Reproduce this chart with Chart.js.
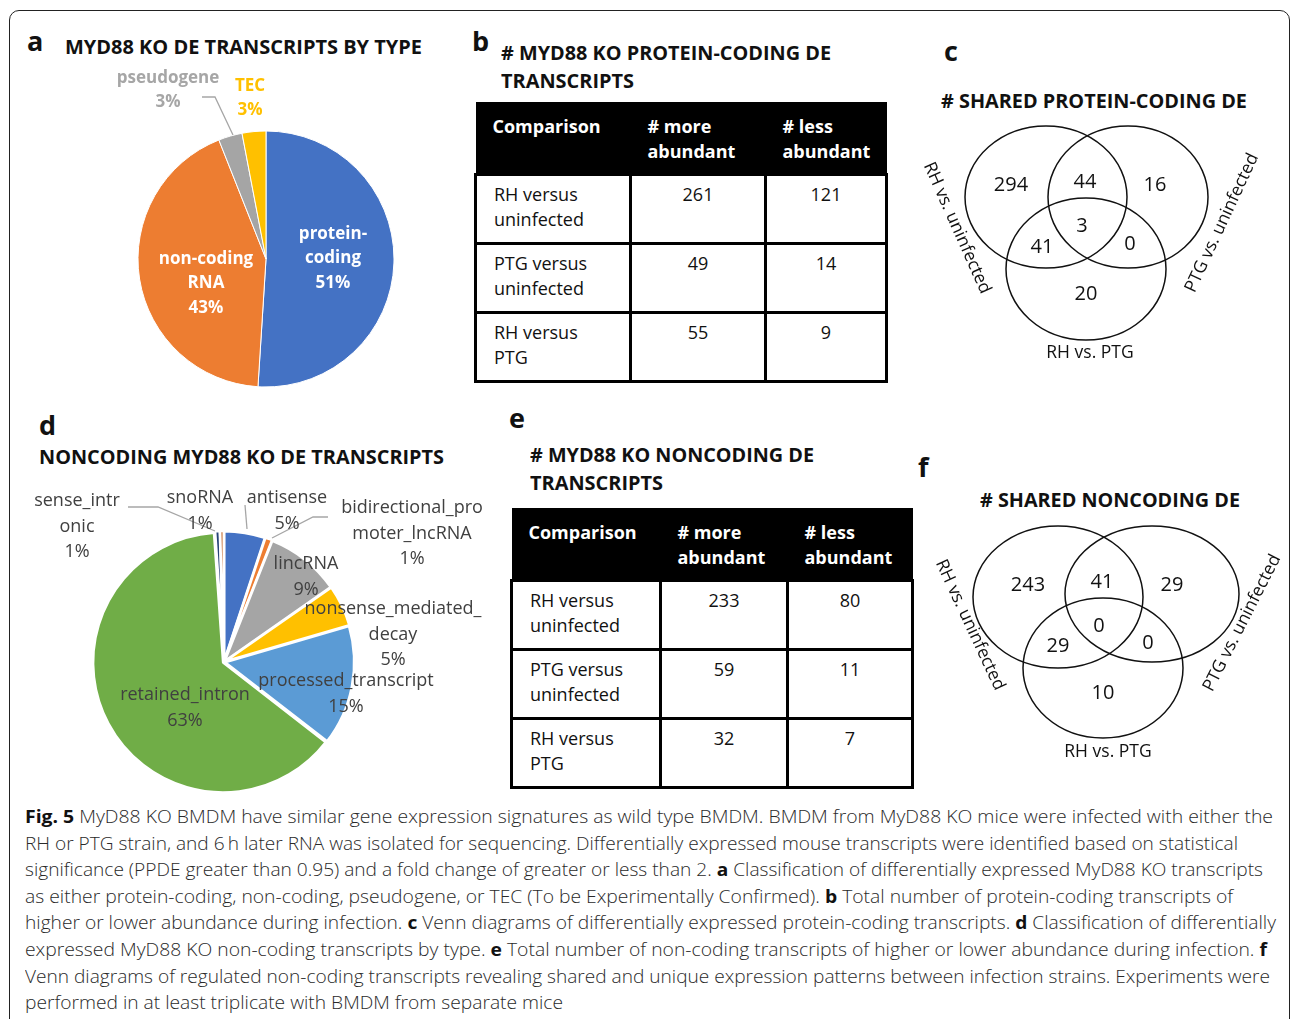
<!DOCTYPE html>
<html>
<head>
<meta charset="utf-8">
<script src="https://cdn.jsdelivr.net/npm/chart.js@4.4.0/dist/chart.umd.min.js"></script>
<style>
    html, body { margin: 0; padding: 0; background: #fff; }
    body { width: 1292px; height: 1019px; position: relative; overflow: hidden; font-family: "Open Sans", sans-serif; color: #111; }
    .frame { position: absolute; left: 9px; top: 10px; width: 1279px; height: 1100px; border: 1.5px solid #222; border-radius: 10px; }
    .abs { position: absolute; white-space: nowrap; }
    .letter { font-weight: 700; font-size: 27px; line-height: 30px; color: #111; }
    .ttl { font-weight: 700; font-size: 19.5px; line-height: 28px; color: #111; transform-origin: left center; }
    canvas { position: absolute; }
    table.tb { position: absolute; border-collapse: collapse; font-size: 18px; line-height: 25px; table-layout: fixed; }
    table.tb td { border: 3px solid #000; vertical-align: top; padding: 6px 0 0 17px; }
    table.tb tr.hd td { background: #000; color: #fff; font-weight: 700; padding-top: 9px; border-left: none; border-right: none; }
    table.tb td.num { text-align: center; padding-left: 0; }
    .cap { position: absolute; left: 25px; top: 803px; font-size: 18.5px; line-height: 26.6px; color: #2a2a2a; font-weight: 300; }
    .cap div { white-space: nowrap; transform-origin: left center; width: max-content; }
    .cap b { font-weight: 700; color: #111; }
</style>
</head>
<body>
<div class="frame"></div>

<!-- a -->
<div class="abs letter" style="left:27px;top:26px;">a</div>
<div class="abs ttl fit" data-w="357" style="left:65px;top:33px;">MYD88 KO DE TRANSCRIPTS BY TYPE</div>
<canvas id="pieA" width="470" height="340" style="left:0px;top:60px;"></canvas>

<!-- b -->
<div class="abs letter" style="left:472px;top:26px;">b</div>
<div class="abs ttl fit" data-w="330" style="left:501px;top:39px;"># MYD88 KO PROTEIN-CODING DE</div>
<div class="abs ttl fit" data-w="133" style="left:501px;top:67px;">TRANSCRIPTS</div>
<table class="tb" id="tableB" style="left:474px;top:102px;width:411px;"></table>

<!-- c -->
<div class="abs letter" style="left:944px;top:36px;">c</div>
<div class="abs ttl fit" data-w="306" style="left:941px;top:87px;"># SHARED PROTEIN-CODING DE</div>
<canvas id="vennC" width="392" height="260" style="left:900px;top:110px;"></canvas>

<!-- d -->
<div class="abs letter" style="left:39px;top:410px;">d</div>
<div class="abs ttl fit" data-w="405" style="left:39px;top:443px;">NONCODING MYD88 KO DE TRANSCRIPTS</div>
<canvas id="pieD" width="500" height="330" style="left:0px;top:470px;"></canvas>

<!-- e -->
<div class="abs letter" style="left:509px;top:403px;">e</div>
<div class="abs ttl fit" data-w="284" style="left:530px;top:441px;"># MYD88 KO NONCODING DE</div>
<div class="abs ttl fit" data-w="133" style="left:530px;top:469px;">TRANSCRIPTS</div>
<table class="tb" id="tableE" style="left:510px;top:508px;width:401px;"></table>

<!-- f -->
<div class="abs letter" style="left:918px;top:452px;">f</div>
<div class="abs ttl fit" data-w="260" style="left:980px;top:486px;"># SHARED NONCODING DE</div>
<canvas id="vennF" width="392" height="260" style="left:900px;top:510px;"></canvas>

<div class="cap" id="caption">
<div data-w="1248"><b>Fig. 5</b> MyD88 KO BMDM have similar gene expression signatures as wild type BMDM. BMDM from MyD88 KO mice were infected with either the</div>
<div data-w="1213">RH or PTG strain, and 6&#8201;h later RNA was isolated for sequencing. Differentially expressed mouse transcripts were identified based on statistical</div>
<div data-w="1238">significance (PPDE greater than 0.95) and a fold change of greater or less than 2. <b>a</b> Classification of differentially expressed MyD88 KO transcripts</div>
<div data-w="1208">as either protein-coding, non-coding, pseudogene, or TEC (To be Experimentally Confirmed). <b>b</b> Total number of protein-coding transcripts of</div>
<div data-w="1251">higher or lower abundance during infection. <b>c</b> Venn diagrams of differentially expressed protein-coding transcripts. <b>d</b> Classification of differentially</div>
<div data-w="1242">expressed MyD88 KO non-coding transcripts by type. <b>e</b> Total number of non-coding transcripts of higher or lower abundance during infection. <b>f</b></div>
<div data-w="1245">Venn diagrams of regulated non-coding transcripts revealing shared and unique expression patterns between infection strains. Experiments were</div>
<div data-w="538">performed in at least triplicate with BMDM from separate mice</div>
</div>

<script>
// ---- data ----
const typeLabels = ['protein-coding', 'non-coding RNA', 'pseudogene', 'TEC'];
const typeShares = [51, 43, 3, 3];

const noncodingLabels = ['antisense', 'bidirectional_promoter_lncRNA', 'lincRNA', 'nonsense_mediated_decay',
    'processed_transcript', 'retained_intron', 'sense_intronic', 'snoRNA'];
const noncodingShares = [5.1, 0.9, 9.3, 5.2, 15.0, 63.4, 0.6, 0.5];

const comparisons = ['RH versus uninfected', 'PTG versus uninfected', 'RH versus PTG'];
const proteinMore = [261, 49, 55];
const proteinLess = [121, 14, 9];
const noncodingMore = [233, 59, 32];
const noncodingLess = [80, 11, 7];

// venn regions: RH only, RH&PTG-unin, PTG only, RH&RHvsPTG, all three, PTG&RHvsPTG, RHvsPTG only
const vennSets = ['RH vs. uninfected', 'PTG vs. uninfected', 'RH vs. PTG'];
const sharedProteinCoding = [294, 44, 16, 41, 3, 0, 20];
const sharedNoncoding = [243, 41, 29, 29, 0, 0, 10];

// ---- styles ----
const typeColors = ['#4472C4', '#ED7D31', '#A5A5A5', '#FFC000'];
const noncodingColors = ['#4472C4', '#ED7D31', '#A5A5A5', '#FFC000', '#5B9BD5', '#70AD47', '#264478', '#C9773F'];

// tables
function fillTable(id, more, less, colW) {
    let html = '<colgroup>' + colW.map(w => '<col style="width:' + w + 'px">').join('') + '</colgroup>';
    html += '<tr class="hd" style="height:71px"><td>Comparison</td><td>#&nbsp;more<br>abundant</td><td>#&nbsp;less<br>abundant</td></tr>';
    comparisons.forEach(function(c, i){
        let parts = c.split(' versus ');
        html += '<tr style="height:69px"><td>' + parts[0] + ' versus<br>' + parts[1] + '</td>'
            + '<td class="num">' + more[i] + '</td><td class="num">' + less[i] + '</td></tr>';
    });
    document.getElementById(id).innerHTML = html;
}
fillTable('tableB', proteinMore, proteinLess, [155, 135, 121]);
fillTable('tableE', noncodingMore, noncodingLess, [149, 127, 125]);

// pie labels drawn around the chart centre
const pieLabels = {
    id: 'pieLabels',
    afterDatasetsDraw(chart, args, opts) {
        if(!opts.items) return;
        const ctx = chart.ctx;
        const arc0 = chart.getDatasetMeta(0).data[0];
        const cx = arc0.x, cy = arc0.y;
        const vals = chart.data.datasets[0].data;
        const total = vals.reduce((a, b) => a + b, 0);
        ctx.save();
        ctx.textAlign = 'center';
        ctx.textBaseline = 'middle';
        // leader lines
        ctx.strokeStyle = '#A6A6A6';
        ctx.lineWidth = 1.3;
        (opts.leaders || []).forEach(function(pts){
            ctx.beginPath();
            pts.forEach(function(p, k){
                if(k === 0) ctx.moveTo(cx + p[0], cy + p[1]); else ctx.lineTo(cx + p[0], cy + p[1]);
            });
            ctx.stroke();
        });
        opts.items.forEach(function(it, i){
            let name = chart.data.labels[i];
            let lines = [];
            let start = 0;
            (it.wrap || []).forEach(function(w){ lines.push(name.slice(start, w).trim()); start = w; });
            lines.push(name.slice(start).trim());
            lines.push(Math.round(vals[i] / total * 100) + '%');
            ctx.fillStyle = it.color || opts.color;
            ctx.font = opts.font;
            lines.forEach(function(l, k){
                ctx.fillText(l, cx + it.dx, cy + it.dy + k * opts.lineH);
            });
        });
        ctx.restore();
    }
};

const vennPlugin = {
    id: 'venn',
    afterDatasetsDraw(chart, args, opts) {
        if(!opts.ellipses) return;
        const ctx = chart.ctx;
        const x = chart.scales.x, y = chart.scales.y;
        ctx.save();
        ctx.strokeStyle = '#111';
        ctx.lineWidth = 1.5;
        opts.ellipses.forEach(function(e){
            let px = x.getPixelForValue(e[0]), py = y.getPixelForValue(e[1]);
            let rx = Math.abs(x.getPixelForValue(e[0] + e[2]) - px);
            let ry = Math.abs(y.getPixelForValue(e[1] + e[3]) - py);
            ctx.beginPath();
            ctx.ellipse(px, py, rx, ry, 0, 0, Math.PI * 2);
            ctx.stroke();
        });
        ctx.fillStyle = '#111';
        ctx.textAlign = 'center';
        ctx.textBaseline = 'middle';
        ctx.font = '20px "Open Sans"';
        chart.getDatasetMeta(0).data.forEach(function(pt, i){
            ctx.fillText(String(chart.data.datasets[0].data[i].n), pt.x, pt.y);
        });
        ctx.font = '17.5px "Open Sans"';
        opts.setLabels.forEach(function(s, i){
            ctx.save();
            ctx.translate(x.getPixelForValue(s[0]), y.getPixelForValue(s[1]));
            ctx.rotate(s[2] * Math.PI / 180);
            ctx.fillText(vennSets[i], 0, 0);
            ctx.restore();
        });
        ctx.restore();
    }
};

new Chart(document.getElementById('pieA'), {
    type: 'pie',
    plugins: [pieLabels],
    data: {
        labels: typeLabels,
        datasets: [{ data: typeShares, backgroundColor: typeColors, borderColor: '#fff', borderWidth: 1, radius: 128 }]
    },
    options: {
        responsive: false,
        animation: false,
        layout: { padding: { left: 62, top: 58 } },
        plugins: {
            legend: { display: false },
            tooltip: { enabled: false },
            pieLabels: {
                font: 'bold 17px "Open Sans"',
                color: '#fff',
                lineH: 24.5,
                items: [
                    { dx: 67, dy: -25, wrap: [8] },
                    { dx: -60, dy: 0, wrap: [10] },
                    { dx: -98, dy: -181, color: '#A6A6A6' },
                    { dx: -16, dy: -173, color: '#FFC000' }
                ],
                leaders: [[[-64, -162], [-51, -162], [-33, -124]]]
            }
        }
    }
});

new Chart(document.getElementById('pieD'), {
    type: 'pie',
    plugins: [pieLabels],
    data: {
        labels: noncodingLabels,
        datasets: [{ data: noncodingShares, backgroundColor: noncodingColors, borderColor: '#fff', borderWidth: 2.5, offset: 4, radius: 129 }]
    },
    options: {
        responsive: false,
        animation: false,
        layout: { padding: { right: 52, top: 54 } },
        plugins: {
            legend: { display: false },
            tooltip: { enabled: false },
            pieLabels: {
                font: '18px "Open Sans"',
                color: '#404040',
                lineH: 25.5,
                items: [
                    { dx: 63, dy: -164 },
                    { dx: 188, dy: -154, wrap: [17] },
                    { dx: 82, dy: -98 },
                    { dx: 169, dy: -53, wrap: [18] },
                    { dx: 122, dy: 19 },
                    { dx: -39, dy: 33 },
                    { dx: -147, dy: -161, wrap: [10] },
                    { dx: -24, dy: -164 }
                ],
                leaders: [
                    [[-96, -155], [-66, -155], [-9, -131]],
                    [[21, -157], [23, -133]],
                    [[104, -145], [89, -145], [48, -124]]
                ]
            }
        }
    }
});

function makeVenn(id, counts, positions, ellipses, setLabels) {
    new Chart(document.getElementById(id), {
        type: 'scatter',
        plugins: [vennPlugin],
        data: {
            datasets: [{
                data: positions.map((p, i) => ({ x: p[0], y: p[1], n: counts[i] })),
                pointRadius: 0
            }]
        },
        options: {
            responsive: false,
            animation: false,
            layout: { padding: 0 },
            scales: {
                x: { display: false, min: 0, max: 392 },
                y: { display: false, min: 0, max: 260, reverse: true }
            },
            plugins: {
                legend: { display: false },
                tooltip: { enabled: false },
                venn: { ellipses: ellipses, setLabels: setLabels }
            }
        }
    });
}

makeVenn('vennC', sharedProteinCoding,
    [[111, 75], [185, 72], [255, 75], [142, 137], [182, 116], [230, 134], [186, 184]],
    [[146, 87, 81, 71], [228, 87, 80, 71], [186, 159, 80, 71]],
    [[57, 118, 66], [322, 113, -65], [190, 243, 0]]);

makeVenn('vennF', sharedNoncoding,
    [[128, 75], [202, 72], [272, 75], [158, 136], [199, 116], [248, 133], [203, 183]],
    [[158, 87, 85, 71], [252, 84, 87, 68], [203, 158, 80, 70]],
    [[70, 115, 65], [342, 113, -63], [208, 242, 0]]);

// squeeze titles and caption lines to the reference widths
document.querySelectorAll('.fit, #caption div').forEach(function(el){
    let w = el.getBoundingClientRect().width;
    el.style.transform = 'scaleX(' + (parseFloat(el.getAttribute('data-w')) / w) + ')';
});
</script>
</body>
</html>
